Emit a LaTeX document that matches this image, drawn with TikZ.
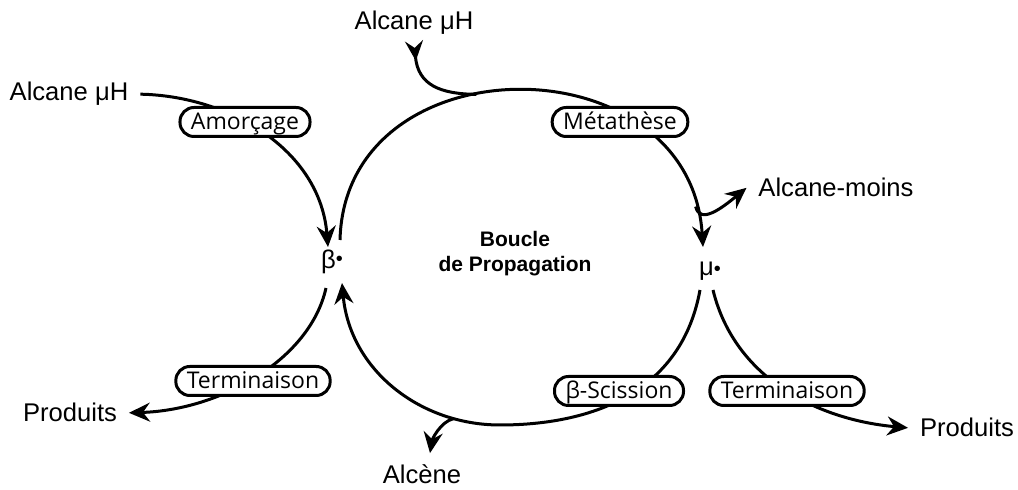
\documentclass[tikz,border=0pt]{standalone}
\usepackage{fontspec}
\setmainfont{Liberation Sans}
\newfontfamily\boxfont{Open Sans}
\usetikzlibrary{arrows.meta}

\newcommand{\pointrad}{\raisebox{0.4pt}{\fontsize{10}{10}\selectfont•}}

\begin{document}
\begin{tikzpicture}[x=0.5pt,y=-0.5pt,line width=1.5pt,
  fleche/.style={-{Stealth[length=10.5pt,width=9.5pt,inset=3.5pt]}},
  entree/.style={{Stealth[reversed,length=10pt,width=9pt,inset=3.5pt]}-},
  espece/.style={font=\fontsize{12.8}{14}\selectfont,inner sep=1pt,outer sep=5pt,anchor=base},
  etape/.style={draw,fill=white,rounded corners=7pt,inner xsep=5.5pt,inner ysep=0pt,
    minimum height=14.5pt,text height=8pt,text depth=0pt,font=\boxfont\fontsize{11.5}{12}\selectfont}]

 \useasboundingbox (0,0) rectangle (1018,490);

 % especes
 \node[espece] (alcL) at (69,101) {Alcane μH};
 \node[espece] (alcT) at (414,30) {Alcane μH};
 \node[espece] (moins) at (836,197) {Alcane-moins};
 \node[espece] (prodL) at (70,422) {Produits};
 \node[espece] (prodR) at (967,437) {Produits};
 \node[espece] (alcene) at (422,484) {Alcène};
 \node[espece] (beta) at (332,269) {β\raisebox{1.2pt}{\pointrad}};
 \node[espece] (mu) at (710,276) {μ\pointrad};
 \node[font=\bfseries\fontsize{10.5}{12.5}\selectfont,align=center] (boucle) at (515,254) {Boucle\\de Propagation};

 % points autour des radicaux
 \coordinate (bA) at (328,247);
 \coordinate (bB) at (340,240);
 \coordinate (bC) at (342,283);
 \coordinate (bD) at (326,288);
 \coordinate (mA) at (703,247);
 \coordinate (mB) at (700,290);
 \coordinate (mC) at (713,290);
 \coordinate (fond) at (500,425);

 % boucle de propagation
 \draw[fleche] (bB) .. controls (345,40) and (690,40) .. (mA)
   coordinate[pos=0.42] (jonction) coordinate[pos=0.93] (fourche);
 \draw[fleche] (mB) .. controls (680,400) and (580,425) .. (fond)
   .. controls (420,425) and (350,370) .. (bC) coordinate[pos=0.2] (fourche2);

 % entrees et sorties
 \draw[fleche] (alcL.east) .. controls (230,96) and (320,150) .. (bA);
 \draw[entree] ([yshift=3pt]alcT.south) .. controls (418,85) and (440,94) .. (jonction);
 \draw[fleche] (fourche) .. controls (700,225) and (722,208) .. (moins.west);
 \draw[fleche] (fourche2) .. controls (440,422) and (432,440) .. ([xshift=4pt]alcene.north);
 \draw[fleche] (bD) .. controls (310,360) and (220,410) .. (prodL.east);
 \draw[fleche] (mC) .. controls (735,380) and (820,420) .. (prodR.west);

 % etapes
 \node[etape] (amor) at (245,122) {Amorçage};
 \node[etape] (meta) at (620,122) {Métathèse};
 \node[etape] (termL) at (253,381) {Terminaison};
 \node[etape] (scis) at (619,391) {β-Scission};
 \node[etape] (termR) at (787,391) {Terminaison};

\end{tikzpicture}
\end{document}
